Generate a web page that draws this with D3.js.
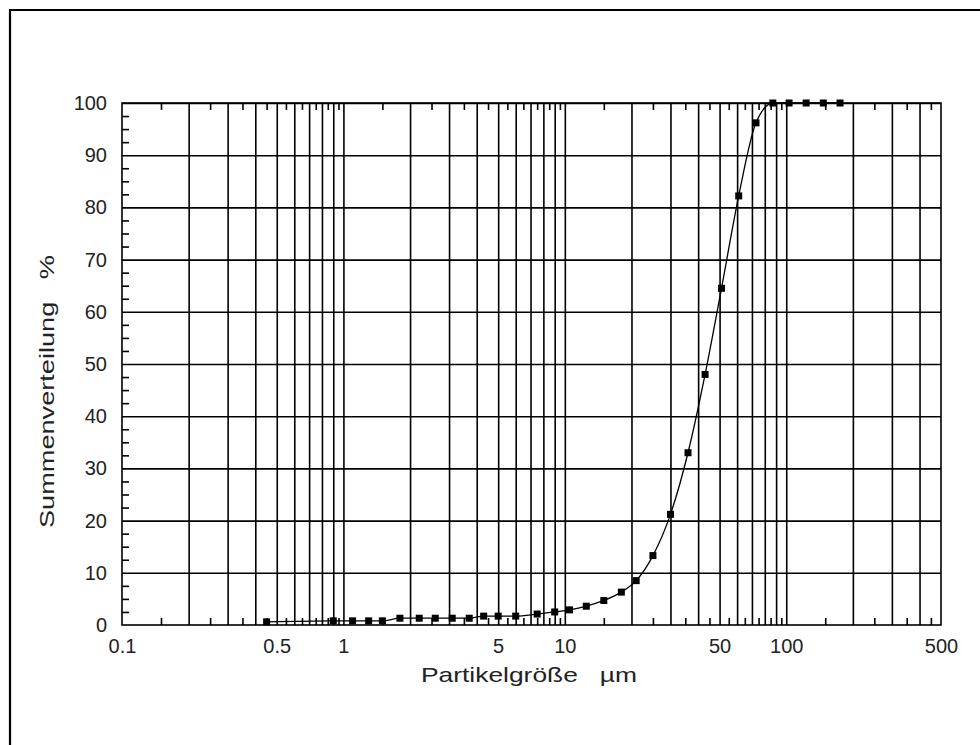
<!DOCTYPE html>
<html lang="de">
<head>
<meta charset="utf-8">
<title>Summenverteilung</title>
<script src="https://cdnjs.cloudflare.com/ajax/libs/d3/7.8.5/d3.min.js"></script>
<style>
  body { margin: 0; background: #fff; }
  .grid line { stroke: #000; stroke-width: 1.6px; }
  .grid path { display: none; }
  .minor line { stroke: #000; stroke-width: 1.6px; }
  .minor path { display: none; }
  .lbl text { font-family: "Liberation Sans", Arial, sans-serif; font-size: 20px; fill: #222; }
  .lbl path, .lbl line { display: none; }
  .title { font-family: "Liberation Sans", Arial, sans-serif; font-size: 21px; fill: #222; }
</style>
</head>
<body>
<div id="chart"></div>
<script>
// particle size classes (µm) and cumulative distribution (%)
var sizes = [0.45, 0.9, 1.1, 1.3, 1.5, 1.8, 2.2, 2.6, 3.1, 3.7, 4.3, 5.0, 6.0, 7.5, 9.0, 10.5,
             12.5, 15, 18, 21, 25, 30, 36, 43, 51, 61, 73, 87, 103, 123, 147, 175];
var cumulative = [0.6, 0.8, 0.8, 0.8, 0.8, 1.3, 1.3, 1.3, 1.3, 1.3, 1.7, 1.7, 1.7, 2.1, 2.5, 2.9,
                  3.6, 4.7, 6.3, 8.5, 13.3, 21.2, 33.0, 48.0, 64.5, 82.2, 96.2, 100, 100, 100, 100, 100];

var xTickValues = [0.1, 0.5, 1, 5, 10, 50, 100, 500];
var xTickLabels = ["0.1", "0.5", "1", "5", "10", "50", "100", "500"];
var yTickValues = [0, 10, 20, 30, 40, 50, 60, 70, 80, 90, 100];
var decades = [0.1, 1, 10, 100];

var W = 980, H = 745;
var pLeft = 122, pRight = 941, pTop = 103, pBottom = 625;

var svg = d3.select("#chart").append("svg")
  .attr("width", W).attr("height", H);

// outer frame (only top and left edges visible)
svg.append("path")
  .attr("d", "M10," + H + "V10H" + W)
  .attr("fill", "none").attr("stroke", "#000").attr("stroke-width", 2.2);

var x = d3.scaleLog().domain([0.1, 500]).range([pLeft, pRight]);
var y = d3.scaleLinear().domain([0, 100]).range([pBottom, pTop]);

// grid values: 2..10 within each decade, halves for the small ticks
var gridX = [], minorX = [];
decades.forEach(function(d) {
  for (var k = 2; k <= 10; k++) if (d * k < 500) gridX.push(d * k);
  for (var k = 1.5; k < 10; k += 1) if (d * k < 500) minorX.push(d * k);
});
var minorY = [];
for (var v = 0; v < 100; v += 10) { minorY.push(v + 2.5, v + 5, v + 7.5); }

// vertical grid lines
svg.append("g").attr("class", "grid")
  .attr("transform", "translate(0," + pBottom + ")")
  .call(d3.axisBottom(x).tickValues(gridX).tickSize(-(pBottom - pTop)).tickFormat(""));

// horizontal grid lines
svg.append("g").attr("class", "grid")
  .attr("transform", "translate(" + pLeft + ",0)")
  .call(d3.axisLeft(y).tickValues(yTickValues.slice(1)).tickSize(-(pRight - pLeft)).tickFormat(""));

// plot frame
svg.append("rect")
  .attr("x", pLeft).attr("y", pTop)
  .attr("width", pRight - pLeft).attr("height", pBottom - pTop)
  .attr("fill", "none").attr("stroke", "#000").attr("stroke-width", 1.6);

// small inward ticks
svg.append("g").attr("class", "minor")
  .attr("transform", "translate(0," + pBottom + ")")
  .call(d3.axisBottom(x).tickValues(minorX).tickSize(-7).tickFormat(""));
svg.append("g").attr("class", "minor")
  .attr("transform", "translate(0," + pTop + ")")
  .call(d3.axisTop(x).tickValues(minorX).tickSize(-7).tickFormat(""));
svg.append("g").attr("class", "minor")
  .attr("transform", "translate(" + pLeft + ",0)")
  .call(d3.axisLeft(y).tickValues(minorY).tickSize(-7).tickFormat(""));

// tick labels
svg.append("g").attr("class", "lbl")
  .attr("transform", "translate(0," + pBottom + ")")
  .call(d3.axisBottom(x).tickValues(xTickValues).tickSize(0).tickPadding(14)
    .tickFormat(function(d, i) { return xTickLabels[i]; }));
svg.append("g").attr("class", "lbl")
  .attr("transform", "translate(" + pLeft + ",0)")
  .call(d3.axisLeft(y).tickValues(yTickValues).tickSize(0).tickPadding(15)
    .tickFormat(d3.format("d")));

// curve
var line = d3.line()
  .x(function(d) { return x(d[0]); })
  .y(function(d) { return y(d[1]); })
  .curve(d3.curveMonotoneX);
var pts = sizes.map(function(s, i) { return [s, cumulative[i]]; });

svg.append("path")
  .datum(pts)
  .attr("d", line)
  .attr("fill", "none").attr("stroke", "#000").attr("stroke-width", 1.3);

svg.selectAll(".pt").data(pts).enter().append("rect")
  .attr("class", "pt")
  .attr("x", function(d) { return x(d[0]) - 3.5; })
  .attr("y", function(d) { return y(d[1]) - 3.5; })
  .attr("width", 7).attr("height", 7)
  .attr("fill", "#000");

// axis titles (the source font is drawn wider than Arial, so stretch to its length)
svg.append("text").attr("class", "title")
  .attr("x", 421).attr("y", 682)
  .attr("xml:space", "preserve")
  .attr("textLength", 216).attr("lengthAdjust", "spacingAndGlyphs")
  .text("Partikelgröße   µm");

svg.append("text").attr("class", "title")
  .attr("transform", "translate(54,528) rotate(-90)")
  .attr("xml:space", "preserve")
  .attr("textLength", 273).attr("lengthAdjust", "spacingAndGlyphs")
  .text("Summenverteilung   %");
</script>
</body>
</html>
